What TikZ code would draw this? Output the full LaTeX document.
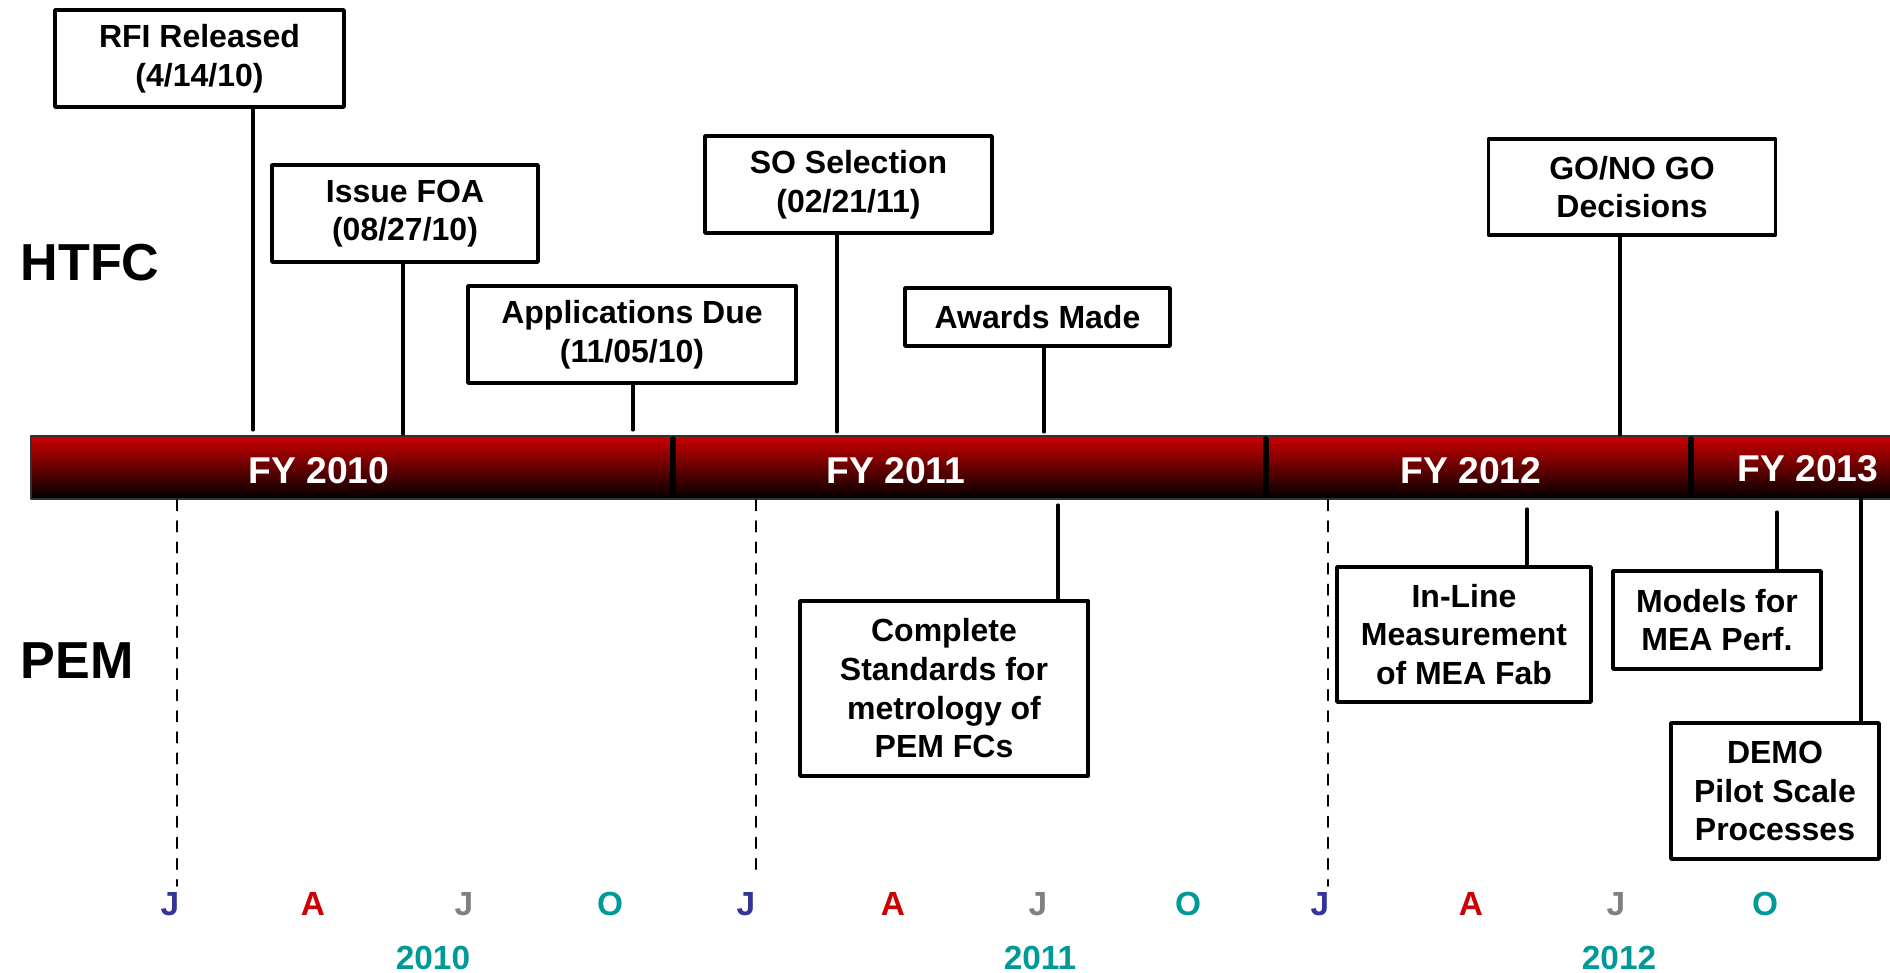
\documentclass[tikz,border=0pt]{standalone}
\usepackage{fontspec}
\setmainfont{Liberation Sans}
\definecolor{barred}{RGB}{204,0,0}
\definecolor{bardark}{RGB}{165,0,0}
\definecolor{monblue}{RGB}{51,51,153}
\definecolor{monred}{RGB}{204,0,0}
\definecolor{mongray}{RGB}{128,128,128}
\definecolor{monteal}{RGB}{0,153,153}
\tikzset{
  milestone/.style={draw, line width=1pt, fill=white, align=center, inner sep=0pt,
    font=\fontsize{9.1}{11}\selectfont\bfseries},
  stem/.style={line width=0.9pt},
  fylabel/.style={text=white, font=\fontsize{10.6}{12}\selectfont\bfseries},
  rowlabel/.style={anchor=west, inner sep=0pt, font=\fontsize{14.8}{17}\selectfont\bfseries},
  monlabel/.style={font=\fontsize{9.5}{11}\selectfont\bfseries},
}
\begin{document}
\begin{tikzpicture}[x=0.01cm, y=-0.01cm, line cap=round, line join=round]
\useasboundingbox (0,0) rectangle (1890,973);

% fiscal year bar
\shade[top color=barred, middle color=bardark, bottom color=black, draw=black!80, line width=0.7pt]
  (31,436) rectangle (1900,499);
\foreach \x in {673,1266,1691}
  \draw[line width=1.6pt] (\x,439) -- (\x,495);
\node[fylabel] (fy10) at (319,471) {FY 2010};
\node[fylabel] (fy11) at (896,471) {FY 2011};
\node[fylabel] (fy12) at (1471,471) {FY 2012};
\node[fylabel] (fy13) at (1808,469) {FY 2013};

\node[rowlabel] (htfc) at (20,263) {HTFC};
\node[rowlabel] (pem) at (20,661) {PEM};

% HTFC milestones
\node[milestone, minimum width=2.89cm, minimum height=0.97cm] (rfi) at (199.5,58.5) {RFI Released\\(4/14/10)};
\node[milestone, minimum width=2.66cm, minimum height=0.97cm] (foa) at (405,213.5) {Issue FOA\\(08/27/10)};
\node[milestone, minimum width=3.28cm, minimum height=0.97cm] (apps) at (632,334.5) {Applications Due\\(11/05/10)};
\node[milestone, minimum width=2.87cm, minimum height=0.97cm] (so) at (848.5,184.5) {SO Selection\\(02/21/11)};
\node[milestone, minimum width=2.65cm, minimum height=0.58cm] (awards) at (1037.5,317) {Awards Made};
\node[milestone, minimum width=2.87cm, minimum height=0.96cm] (gonogo) at (1632,187) {GO/NO GO\\Decisions};

% PEM milestones
\node[milestone, minimum width=2.88cm, minimum height=1.75cm] (stds) at (944,688.5) {Complete\\Standards for\\metrology of\\PEM FCs};
\node[milestone, minimum width=2.54cm, minimum height=1.35cm] (inline) at (1464,634.5) {In-Line\\Measurement\\of MEA Fab};
\node[milestone, minimum width=2.08cm, minimum height=0.98cm] (models) at (1717,620) {Models for\\MEA Perf.};
\node[milestone, minimum width=2.08cm, minimum height=1.36cm] (demo) at (1775,791) {DEMO\\Pilot Scale\\Processes};

% stems to the bar
\foreach \n/\x/\y in {rfi/253/430, foa/403/434, apps/633/430, so/837/432, awards/1044/432, gonogo/1620/435,
                      stds/1058/505, inline/1527/509, models/1777/512, demo/1861/499}
  \coordinate (\n-t) at (\x,\y);
\foreach \n in {rfi,foa,apps,so,awards,gonogo}
  \draw[stem] (\n.south -| \n-t) -- (\n-t);
\foreach \n in {stds,inline,models,demo}
  \draw[stem] (\n-t) -- (\n.north -| \n-t);

% January markers
\foreach \n/\x/\y in {jan10/177/886, jan11/756/876, jan12/1328/886}{
  \coordinate (\n-a) at (\x,500);
  \coordinate (\n-b) at (\x,\y);
  \draw[dashed, line width=0.5pt] (\n-a) -- (\n-b);
}

% months and years
\foreach \x/\m/\c [count=\i] in {170/J/monblue, 313/A/monred, 464/J/mongray, 610/O/monteal,
                                 746/J/monblue, 893/A/monred, 1038/J/mongray, 1188/O/monteal,
                                 1320/J/monblue, 1471/A/monred, 1616/J/mongray, 1765/O/monteal}
  \node[monlabel, text=\c] (mon\i) at (\x,904) {\m};
\node[monlabel, text=monteal] (yr10) at (433,958) {2010};
\node[monlabel, text=monteal] (yr11) at (1040,958) {2011};
\node[monlabel, text=monteal] (yr12) at (1619,958) {2012};
\end{tikzpicture}
\end{document}
